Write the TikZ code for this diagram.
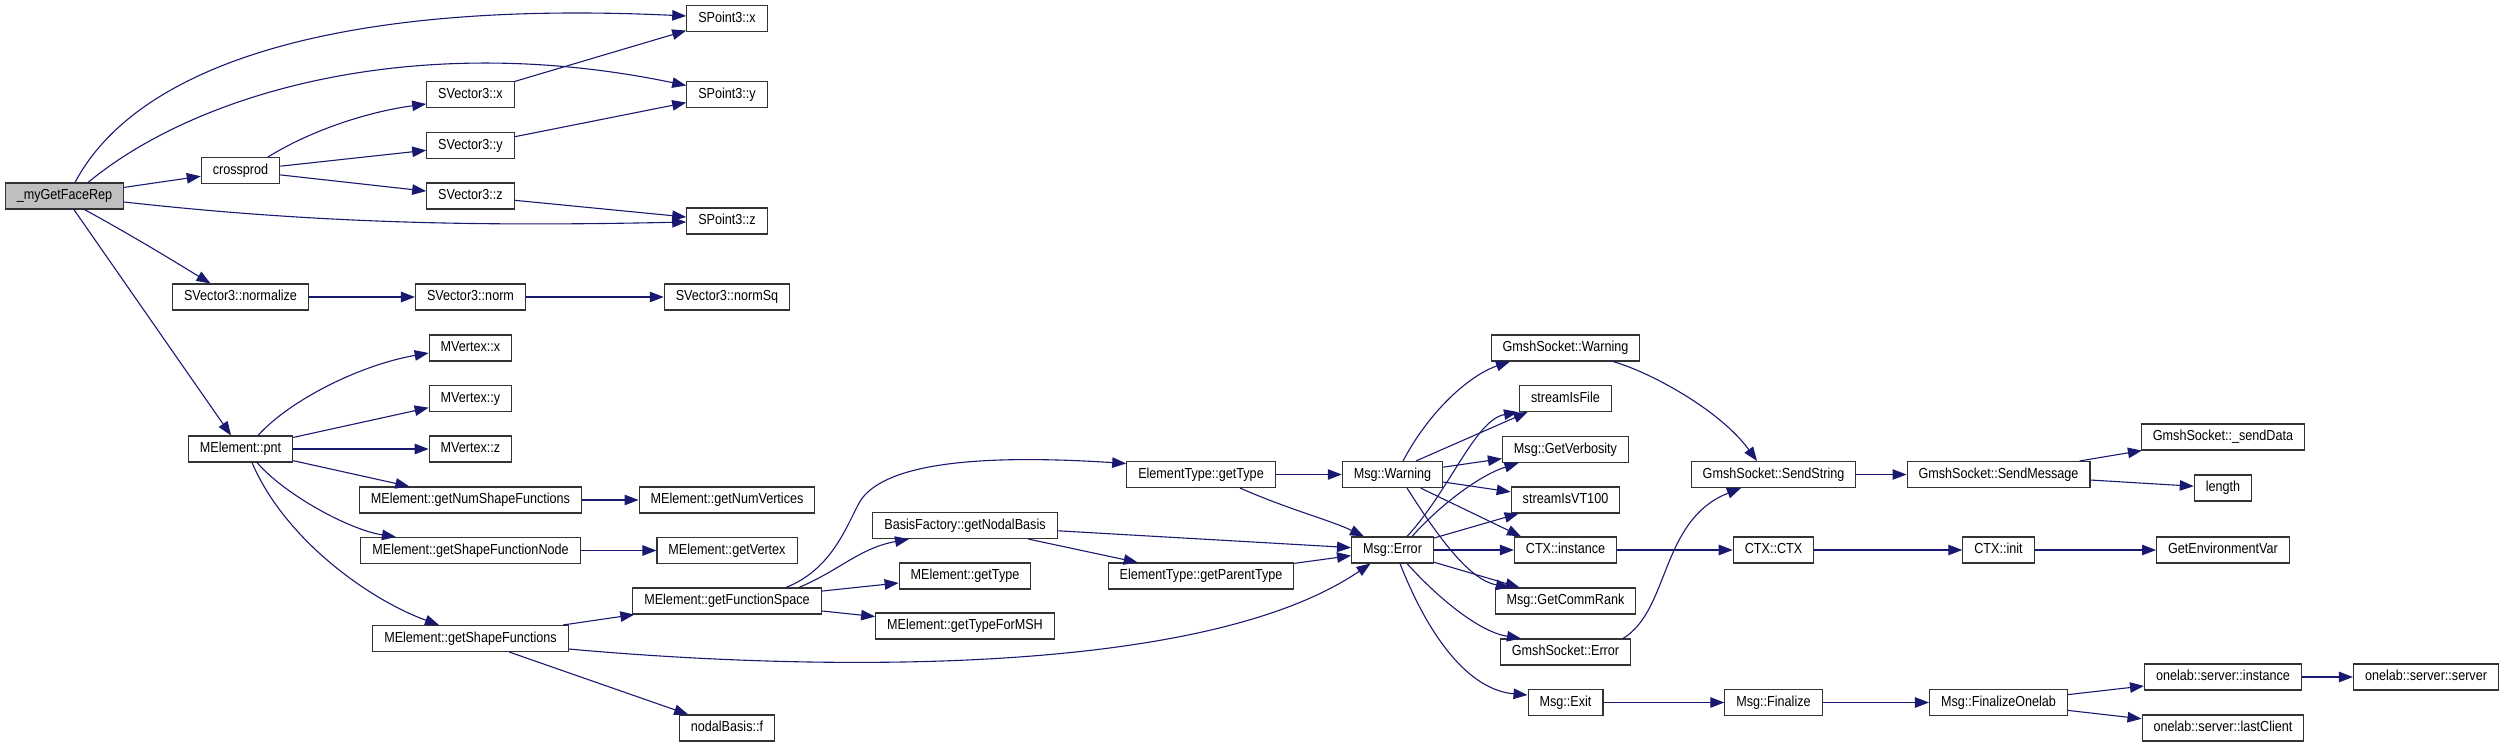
\documentclass[tikz,border=0pt]{standalone}
\usepackage{fontspec}
\setmainfont{Liberation Sans}
\newfontfamily\dotfont[FakeStretch=0.87]{Liberation Sans}
\usetikzlibrary{arrows.meta}
\definecolor{edgeblue}{HTML}{191970}
\definecolor{rootgray}{HTML}{BFBFBF}
\definecolor{boxline}{HTML}{333333}
\tikzset{
  fn/.style={draw=boxline, line width=1.1pt, fill=white, minimum height=26pt, inner xsep=11.5pt, inner ysep=0pt,
    text height=10.6pt, text depth=3pt, font=\dotfont\fontsize{14.5}{16}\selectfont, anchor=center},
  root/.style={fn, fill=rootgray},
  call/.style={draw=edgeblue, line width=1.1pt, -{Triangle[length=14pt,width=10.5pt]}},
}
\begin{document}
\begin{tikzpicture}[x={(1pt,0)}, y={(0,-1pt)}]
\useasboundingbox (0,0) rectangle (2504,747);
% nodes
\node[root] (face) at (64.5,196) {\_myGetFaceRep};
\node[fn] (cross) at (240.5,170.5) {crossprod};
\node[fn] (norml) at (240.5,297) {SVector3::normalize};
\node[fn] (pnt) at (240.5,449) {MElement::pnt};
\node[fn] (svx) at (470.5,94.5) {SVector3::x};
\node[fn] (svy) at (470.5,145.5) {SVector3::y};
\node[fn] (svz) at (470.5,196) {SVector3::z};
\node[fn] (nrm) at (470.5,297) {SVector3::norm};
\node[fn] (mvx) at (470.5,348) {MVertex::x};
\node[fn] (mvy) at (470.5,398.5) {MVertex::y};
\node[fn] (mvz) at (470.5,449) {MVertex::z};
\node[fn] (gnsf) at (470.5,500) {MElement::getNumShapeFunctions};
\node[fn] (gsfn) at (470.5,550.5) {MElement::getShapeFunctionNode};
\node[fn] (gsf) at (470.5,638.5) {MElement::getShapeFunctions};
\node[fn] (spx) at (727,18.5) {SPoint3::x};
\node[fn] (spy) at (727,94.5) {SPoint3::y};
\node[fn] (spz) at (727,221) {SPoint3::z};
\node[fn] (nsq) at (727,297) {SVector3::normSq};
\node[fn] (gnv) at (727,500) {MElement::getNumVertices};
\node[fn] (gvx) at (727,550.5) {MElement::getVertex};
\node[fn] (gfs) at (727,601) {MElement::getFunctionSpace};
\node[fn] (nbf) at (727,728) {nodalBasis::f};
\node[fn] (bfnb) at (965,525.5) {BasisFactory::getNodalBasis};
\node[fn] (megt) at (965,576) {MElement::getType};
\node[fn] (msh) at (965,626) {MElement::getTypeForMSH};
\node[fn] (etgt) at (1201,474.5) {ElementType::getType};
\node[fn] (etpt) at (1201,576) {ElementType::getParentType};
\node[fn] (warn) at (1392.5,474.5) {Msg::Warning};
\node[fn] (err) at (1392.5,550) {Msg::Error};
\node[fn] (gsw) at (1565.5,348) {GmshSocket::Warning};
\node[fn] (sif) at (1565.5,398.5) {streamIsFile};
\node[fn] (verb) at (1565.5,449.5) {Msg::GetVerbosity};
\node[fn] (vt) at (1565.5,500) {streamIsVT100};
\node[fn] (ctxi) at (1565.5,550) {CTX::instance};
\node[fn] (rank) at (1565.5,601) {Msg::GetCommRank};
\node[fn] (gse) at (1565.5,652) {GmshSocket::Error};
\node[fn] (exit) at (1565.5,702.5) {Msg::Exit};
\node[fn] (sstr) at (1773.5,474.5) {GmshSocket::SendString};
\node[fn] (ctx) at (1773.5,550) {CTX::CTX};
\node[fn] (fin) at (1773.5,702.5) {Msg::Finalize};
\node[fn] (smsg) at (1998.5,474.5) {GmshSocket::SendMessage};
\node[fn] (cinit) at (1998.5,550) {CTX::init};
\node[fn] (fol) at (1998.5,702.5) {Msg::FinalizeOnelab};
\node[fn] (sdata) at (2223,437) {GmshSocket::\_sendData};
\node[fn] (len) at (2223,488) {length};
\node[fn] (genv) at (2223,550) {GetEnvironmentVar};
\node[fn] (osi) at (2223,677) {onelab::server::instance};
\node[fn] (olc) at (2223,728) {onelab::server::lastClient};
\node[fn] (oss) at (2426,677) {onelab::server::server};
% edges from _myGetFaceRep
\draw[call] ([xshift=10.5pt]face.north) .. controls (140,60) and (350,0) .. ([yshift=2.5pt]spx.west);
\draw[call] ([xshift=23.5pt]face.north) .. controls (200,90) and (420,30) .. ([yshift=9pt]spy.west);
\draw[call] (face) -- (cross);
\draw[call] ([yshift=-6pt]face.east) .. controls (330,225) and (500,226) .. ([yshift=-1pt]spz.west);
\draw[call] ([xshift=20pt]face.south) .. controls (140,240) and (180,265) .. ([xshift=-30pt]norml.north);
\draw[call] (face) -- (pnt);
% crossprod
\draw[call] ([xshift=27.5pt]cross.north) .. controls (320,125) and (380,110) .. ([yshift=-9.5pt]svx.west);
\draw[call] (cross) -- (svy);
\draw[call] (cross) -- (svz);
\draw[call] (svx) -- (spx);
\draw[call] (svy) -- (spy);
\draw[call] (svz) -- (spz);
% normalize
\draw[call] (norml) -- (nrm);
\draw[call] (nrm) -- (nsq);
% pnt
\draw[call] ([xshift=17.5pt]pnt.north) .. controls (290,400) and (360,365) .. ([yshift=-5pt]mvx.west);
\draw[call] (pnt) -- (mvy);
\draw[call] (pnt) -- (mvz);
\draw[call] (pnt) -- (gnsf);
\draw[call] ([xshift=16.5pt]pnt.south) .. controls (285,495) and (350,530) .. ([xshift=-74.5pt]gsfn.north);
\draw[call] ([xshift=11.5pt]pnt.south) .. controls (285,540) and (370,600) .. ([xshift=-31.5pt]gsf.north);
\draw[call] (gnsf) -- (gnv);
\draw[call] (gsfn) -- (gvx);
% getShapeFunctions
\draw[call] (gsf) -- (gfs);
\draw[call] (gsf) -- (nbf);
\draw[call] ([yshift=-10.5pt]gsf.east) .. controls (800,670) and (1200,680) .. ([xshift=-22pt]err.south);
% getFunctionSpace
\draw[call] ([xshift=59pt]gfs.north) .. controls (830,570) and (845,530) .. (858,505)
  .. controls (875,470) and (950,452) .. ([yshift=11pt]etgt.west);
\draw[call] ([xshift=72pt]gfs.north) .. controls (840,570) and (860,548) .. ([xshift=-56pt]bfnb.south);
\draw[call] (gfs) -- (megt);
\draw[call] (gfs) -- (msh);
% BasisFactory, ElementType
\draw[call] (bfnb) -- (err);
\draw[call] (bfnb) -- (etpt);
\draw[call] (etgt) -- (warn);
\draw[call] ([xshift=39pt]etgt.south) .. controls (1290,510) and (1330,520) .. ([xshift=-28.5pt]err.north);
\draw[call] (etpt) -- (err);
% Msg::Warning
\draw[call] ([xshift=10.5pt]warn.north) .. controls (1430,410) and (1470,375) .. ([xshift=-55.5pt]gsw.south);
\draw[call] ([xshift=23.5pt]warn.north) -- ([xshift=-38pt]sif.south);
\draw[call] (warn) -- (verb);
\draw[call] (warn) -- (vt);
\draw[call] (warn) -- ([xshift=-44.5pt]ctxi.north);
\draw[call] ([xshift=14.5pt]warn.south) .. controls (1440,540) and (1470,580) .. ([xshift=-55.5pt]rank.north);
% Msg::Error
\draw[call] ([xshift=14.5pt]err.north) .. controls (1450,490) and (1475,420) .. ([xshift=-47.5pt]sif.south);
\draw[call] ([xshift=19.5pt]err.north) .. controls (1440,505) and (1480,475) .. ([xshift=-47pt]verb.south);
\draw[call] (err) -- (vt);
\draw[call] (err) -- (ctxi);
\draw[call] (err) -- (rank);
\draw[call] ([xshift=14.5pt]err.south) .. controls (1440,600) and (1480,632) .. ([xshift=-44.5pt]gse.north);
\draw[call] ([xshift=7.5pt]err.south) .. controls (1430,640) and (1470,690) .. ([yshift=7.5pt]exit.west);
% GmshSocket
\draw[call] ([xshift=47.5pt]gsw.south) .. controls (1650,372) and (1720,410) .. ([xshift=-16.5pt]sstr.north);
\draw[call] ([xshift=57.5pt]gse.north) .. controls (1670,610) and (1660,520) .. ([xshift=-32.5pt]sstr.south);
\draw[call] (sstr) -- (smsg);
\draw[call] (smsg) -- (sdata);
\draw[call] (smsg) -- (len);
% CTX
\draw[call] (ctxi) -- (ctx);
\draw[call] (ctx) -- (cinit);
\draw[call] (cinit) -- (genv);
% Exit chain
\draw[call] (exit) -- (fin);
\draw[call] (fin) -- (fol);
\draw[call] (fol) -- (osi);
\draw[call] (fol) -- (olc);
\draw[call] (osi) -- (oss);
\end{tikzpicture}
\end{document}
